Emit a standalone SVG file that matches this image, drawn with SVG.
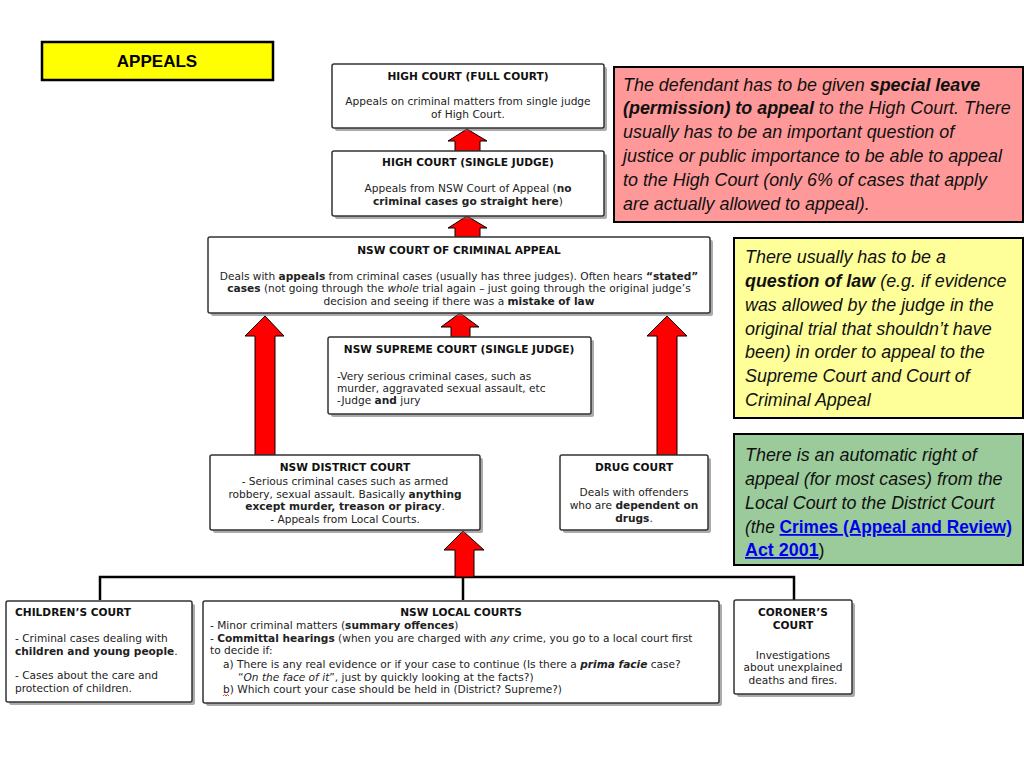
<svg xmlns="http://www.w3.org/2000/svg" width="1024" height="768" viewBox="0 0 1024 768">
<style>
.box{fill:#fff;stroke:#333;stroke-width:1.5}
.sh{fill:#666;opacity:.55}
.t{font-family:"DejaVu Sans",Verdana,sans-serif;font-size:10.6px;fill:#222}
.h{font-weight:bold;font-size:10.6px;fill:#111}
.c{text-anchor:middle}
.b{font-weight:bold}
.i{font-style:italic}
.arr{fill:#f00;stroke:#000;stroke-width:1}
.ln{fill:none;stroke:#000;stroke-width:2.5}
.call{font-family:"Liberation Sans",Arial,sans-serif;font-style:italic;font-size:17.9px;fill:#111}
.lk{fill:#0000ee;font-weight:bold;font-style:normal;text-decoration:underline}
</style>
<rect width="1024" height="768" fill="#fff"/>

<g id="title">
<rect x="42" y="42" width="231" height="38" fill="#ffff00" stroke="#000" stroke-width="2.5"/>
<text x="157" y="67" text-anchor="middle" font-family="Liberation Sans,Arial,sans-serif" font-weight="bold" font-size="17" fill="#000">APPEALS</text>
</g>

<g id="connectors">
<path class="ln" d="M100,600 V577 H794 V600 M463,577 V600"/>
<path class="arr" d="M467,129 L487,141 L480,141 L480,151 L455,151 L455,141 L448,141 Z"/>
<path class="arr" d="M467,216 L487,228 L480,228 L480,237 L455,237 L455,228 L448,228 Z"/>
<path class="arr" d="M460,313 L479,327 L470,327 L470,337 L451,337 L451,327 L441,327 Z"/>
<path class="arr" d="M265,316 L284,336 L275,336 L275,455 L255,455 L255,336 L245,336 Z"/>
<path class="arr" d="M667,316 L687,336 L677,336 L677,455 L657,455 L657,336 L647,336 Z"/>
<path class="arr" d="M463,531 L484,550 L474,550 L474,577 L455,577 L455,550 L444,550 Z"/>
</g>

<g id="high-court-full">
<rect class="sh" x="335" y="67" width="272" height="64" rx="2"/>
<rect class="box" x="332" y="64" width="272" height="64" rx="2"/>
<text class="t h c" x="468" y="79.5">HIGH COURT (FULL COURT)</text>
<text class="t c" x="468" y="104.5">Appeals on criminal matters from single judge</text>
<text class="t c" x="468" y="117.5">of High Court.</text>
</g>

<g id="high-court-single">
<rect class="sh" x="335" y="154" width="272" height="65" rx="2"/>
<rect class="box" x="332" y="151" width="272" height="65" rx="2"/>
<text class="t h c" x="468" y="165.5">HIGH COURT (SINGLE JUDGE)</text>
<text class="t c" x="468" y="191.5">Appeals from NSW Court of Appeal (<tspan class="b">no</tspan></text>
<text class="t c" x="468" y="204.5"><tspan class="b">criminal cases go straight here</tspan>)</text>
</g>

<g id="nsw-cca">
<rect class="sh" x="211" y="240" width="502" height="76" rx="2"/>
<rect class="box" x="208" y="237" width="502" height="76" rx="2"/>
<text class="t h c" x="459" y="253.5">NSW COURT OF CRIMINAL APPEAL</text>
<text class="t c" x="459" y="279.5">Deals with <tspan class="b">appeals</tspan> from criminal cases (usually has three judges). Often hears <tspan class="b">“stated”</tspan></text>
<text class="t c" x="459" y="291.5"><tspan class="b">cases</tspan> (not going through the <tspan class="i">whole</tspan> trial again – just going through the original judge’s</text>
<text class="t c" x="459" y="304.5">decision and seeing if there was a <tspan class="b">mistake of law</tspan></text>
</g>

<g id="nsw-supreme">
<rect class="sh" x="331" y="340" width="263" height="77" rx="2"/>
<rect class="box" x="328" y="337" width="263" height="77" rx="2"/>
<text class="t h c" x="459" y="352.5">NSW SUPREME COURT (SINGLE JUDGE)</text>
<text class="t" x="337" y="379.5">-Very serious criminal cases, such as</text>
<text class="t" x="337" y="391.5">murder, aggravated sexual assault, etc</text>
<text class="t" x="337" y="403.5">-Judge <tspan class="b">and</tspan> jury</text>
</g>

<g id="nsw-district">
<rect class="sh" x="213" y="458" width="270" height="75" rx="2"/>
<rect class="box" x="210" y="455" width="270" height="75" rx="2"/>
<text class="t h c" x="345" y="470.5">NSW DISTRICT COURT</text>
<text class="t c" x="345" y="484.5">- Serious criminal cases such as armed</text>
<text class="t c" x="345" y="497.5">robbery, sexual assault. Basically <tspan class="b">anything</tspan></text>
<text class="t c" x="345" y="509.5"><tspan class="b">except murder, treason or piracy</tspan>.</text>
<text class="t c" x="345" y="522.5">- Appeals from Local Courts.</text>
</g>

<g id="drug-court">
<rect class="sh" x="563" y="458" width="148" height="75" rx="2"/>
<rect class="box" x="560" y="455" width="148" height="75" rx="2"/>
<text class="t h c" x="634" y="470.5">DRUG COURT</text>
<text class="t c" x="634" y="495.5">Deals with offenders</text>
<text class="t c" x="634" y="508.5">who are <tspan class="b">dependent on</tspan></text>
<text class="t c" x="634" y="521.5"><tspan class="b">drugs</tspan>.</text>
</g>

<g id="childrens-court">
<rect class="sh" x="9" y="604" width="186" height="101" rx="2"/>
<rect class="box" x="6" y="601" width="186" height="101" rx="2"/>
<text class="t h" x="15" y="615.5">CHILDREN’S COURT</text>
<text class="t" x="15" y="641.5">- Criminal cases dealing with</text>
<text class="t" x="15" y="654.5"><tspan class="b">children and young people</tspan>.</text>
<text class="t" x="15" y="678.5">- Cases about the care and</text>
<text class="t" x="15" y="691.5">protection of children.</text>
</g>

<g id="local-courts">
<rect class="sh" x="206" y="604" width="516" height="102" rx="2"/>
<rect class="box" x="203" y="601" width="516" height="102" rx="2"/>
<text class="t h c" x="461" y="615.5">NSW LOCAL COURTS</text>
<text class="t" x="210" y="628.5">- Minor criminal matters (<tspan class="b">summary offences</tspan>)</text>
<text class="t" x="210" y="641.5">- <tspan class="b">Committal hearings</tspan> (when you are charged with <tspan class="i">any</tspan> crime, you go to a local court first</text>
<text class="t" x="210" y="653.5">to decide if:</text>
<text class="t" x="223" y="667.5">a) There is any real evidence or if your case to continue (Is there a <tspan class="b i">prima facie</tspan> case?</text>
<text class="t" x="238" y="680.5">“<tspan class="i">On the face of it</tspan>”, just by quickly looking at the facts?)</text>
<text class="t" x="223" y="692.5">b) Which court your case should be held in (District? Supreme?)</text>
<path d="M223,696 l1.5,-1.5 l1.5,1.5 l1.5,-1.5 l1.5,1.5" fill="none" stroke="#e00" stroke-width="0.8"/>
</g>

<g id="coroners-court">
<rect class="sh" x="737" y="603" width="118" height="94" rx="2"/>
<rect class="box" x="734" y="600" width="118" height="94" rx="2"/>
<text class="t h c" x="793" y="615.5">CORONER’S</text>
<text class="t h c" x="793" y="628.5">COURT</text>
<text class="t c" x="793" y="658.5">Investigations</text>
<text class="t c" x="793" y="670.5">about unexplained</text>
<text class="t c" x="793" y="683.5">deaths and fires.</text>
</g>

<g id="note-high-court">
<rect x="614" y="67" width="409" height="155" fill="#ff9999" stroke="#000" stroke-width="2"/>
<text class="call" x="623" y="91">The defendant has to be given <tspan font-weight="bold">special leave</tspan></text>
<text class="call" x="623" y="114"><tspan font-weight="bold">(permission) to appeal</tspan> to the High Court. There</text>
<text class="call" x="623" y="138">usually has to be an important question of</text>
<text class="call" x="623" y="162">justice or public importance to be able to appeal</text>
<text class="call" x="623" y="186">to the High Court (only 6% of cases that apply</text>
<text class="call" x="623" y="210">are actually allowed to appeal).</text>
</g>

<g id="note-question-of-law">
<rect x="734" y="238" width="289" height="180" fill="#ffff99" stroke="#000" stroke-width="2"/>
<text class="call" x="745" y="263">There usually has to be a</text>
<text class="call" x="745" y="287"><tspan font-weight="bold">question of law</tspan> (e.g. if evidence</text>
<text class="call" x="745" y="311">was allowed by the judge in the</text>
<text class="call" x="745" y="335">original trial that shouldn’t have</text>
<text class="call" x="745" y="358">been) in order to appeal to the</text>
<text class="call" x="745" y="382">Supreme Court and Court of</text>
<text class="call" x="745" y="406">Criminal Appeal</text>
</g>

<g id="note-automatic-right">
<rect x="734" y="434" width="289" height="131" fill="#9bcb9b" stroke="#000" stroke-width="2"/>
<text class="call" x="745" y="461">There is an automatic right of</text>
<text class="call" x="745" y="485">appeal (for most cases) from the</text>
<text class="call" x="745" y="509">Local Court to the District Court</text>
<text class="call" x="745" y="533" textLength="267" lengthAdjust="spacingAndGlyphs">(the <tspan class="lk">Crimes (Appeal and Review)</tspan></text>
<text class="call" x="745" y="556"><tspan class="lk">Act 2001</tspan><tspan font-style="normal">)</tspan></text>
</g>
</svg>
